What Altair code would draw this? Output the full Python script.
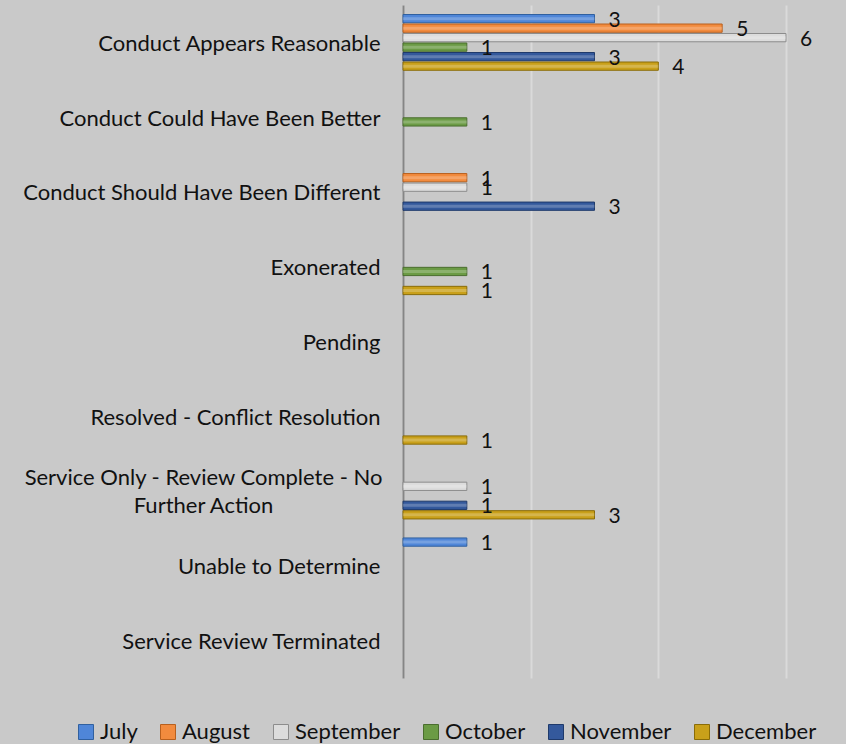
import altair as alt
import pandas as pd

# Complaint outcome categories (top to bottom)
categories = [
    "Conduct Appears Reasonable",
    "Conduct Could Have Been Better",
    "Conduct Should Have Been Different",
    "Exonerated",
    "Pending",
    "Resolved - Conflict Resolution",
    "Service Only - Review Complete - No Further Action",
    "Unable to Determine",
    "Service Review Terminated",
]

months = ["July", "August", "September", "October", "November", "December"]

# Monthly counts per category
july = [3, 0, 0, 0, 0, 0, 0, 1, 0]
august = [5, 0, 1, 0, 0, 0, 0, 0, 0]
september = [6, 0, 1, 0, 0, 0, 1, 0, 0]
october = [1, 1, 0, 1, 0, 0, 0, 0, 0]
november = [3, 0, 3, 0, 0, 0, 1, 0, 0]
december = [4, 0, 0, 1, 0, 1, 3, 0, 0]

month_colors = ["#4f86d8", "#f28b3e", "#dcdcdc", "#6b9b45", "#34599c", "#c9a01a"]
month_strokes = ["#30609f", "#b8601e", "#8c8c8c", "#4a6e2e", "#1f3a6b", "#8a6c08"]

series = [july, august, september, october, november, december]
rows = []
for month, values in zip(months, series):
    for cat, v in zip(categories, values):
        if v:
            rows.append({"category": cat, "month": month, "count": v})
df = pd.DataFrame(rows)

FONT = "Lato"
two_line = "Service Only - Review Complete - No Further Action"
is_two_line = f"datum.value == '{two_line}'"

y_enc = alt.Y(
    "category:N",
    sort=categories,
    scale=alt.Scale(domain=categories, paddingInner=0, paddingOuter=0),
    axis=alt.Axis(
        title=None,
        ticks=False,
        domainColor="#858585",
        domainWidth=2,
        labelFont=FONT,
        labelFontSize=22,
        labelColor="#111111",
        labelLimit=420,
        labelLineHeight=28,
        labelPadding={"condition": {"test": is_two_line, "value": 200}, "value": 23},
        labelAlign={"condition": {"test": is_two_line, "value": "center"}, "value": "right"},
        labelOffset={"condition": {"test": is_two_line, "value": -13}, "value": 1.5},
        labelExpr=f"{is_two_line} ? ['Service Only - Review Complete - No', 'Further Action'] : datum.value",
    ),
)
yoff_enc = alt.YOffset(
    "month:N",
    scale=alt.Scale(domain=months, paddingInner=0.13, paddingOuter=1),
)
x_enc = alt.X(
    "count:Q",
    scale=alt.Scale(domain=[0, 6.94], nice=False),
    axis=alt.Axis(
        title=None,
        labels=False,
        ticks=False,
        domain=False,
        values=[0, 2, 4, 6],
        gridColor="#dadada",
        gridWidth=2,
    ),
)

bars = alt.Chart(df).mark_bar(strokeWidth=1).encode(
    y=y_enc,
    yOffset=yoff_enc,
    x=x_enc,
    color=alt.Color(
        "month:N",
        scale=alt.Scale(domain=months, range=month_colors),
        legend=alt.Legend(
            title=None,
            orient="none",
            direction="horizontal",
            columns=6,
            legendX=-328,
            legendY=716,
            symbolType="square",
            symbolSize=225,
            symbolStrokeWidth=1,
            symbolStrokeColor="#555555",
            labelFont=FONT,
            labelFontSize=22,
            labelColor="#111111",
            labelOffset=3,
            columnPadding=19,
        ),
    ),
    stroke=alt.Stroke("month:N", scale=alt.Scale(domain=months, range=month_strokes), legend=None),
)

# thin light streak along each bar for a bevelled look
shine = alt.Chart(df).mark_bar(color="white", opacity=0.22, size=3).encode(
    y=alt.Y("category:N", sort=categories),
    yOffset=alt.YOffset("month:N"),
    x=alt.X("count:Q"),
)

labels = alt.Chart(df).mark_text(
    align="left", baseline="middle", dx=14, dy=2, font=FONT, fontSize=21, color="#111111"
).encode(
    y=alt.Y("category:N", sort=categories),
    yOffset=alt.YOffset("month:N"),
    x=alt.X("count:Q"),
    text="count:Q",
)

chart = (
    alt.layer(bars, shine, labels)
    .properties(
        width=443,
        height=673,
        autosize=alt.AutoSizeParams(type="none"),
        padding={"left": 403, "top": 5, "right": 0, "bottom": 66},
        background="#c9c9c9",
    )
    .configure_view(stroke=None)
)

chart.save("out.html", embed_options={"renderer": "svg", "actions": False})
